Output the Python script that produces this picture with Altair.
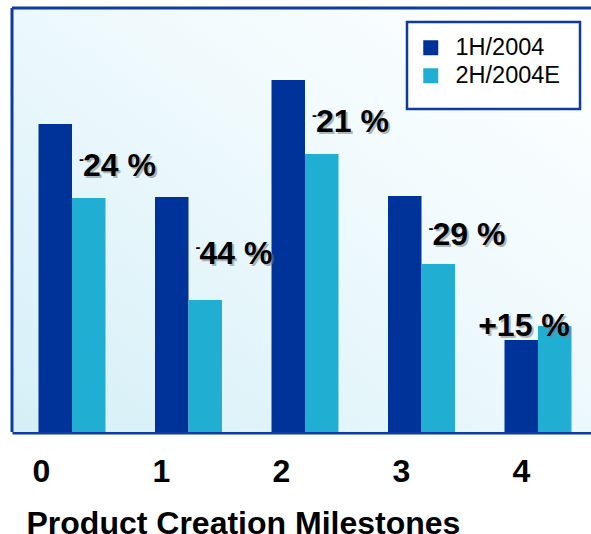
import altair as alt
import pandas as pd

# Chart data
milestones = ["0", "1", "2", "3", "4"]
first_half = [308, 235, 352, 236, 92]
second_half = [234, 132, 278, 168, 106]
change_pct = [-24, -44, -21, -29, 15]
series_names = ["1H/2004", "2H/2004E"]
bar_colors = ["#003399", "#21aed3"]
tick_values = [0, 1, 2, 3, 4]

W, H = 579, 424
FONT = "Liberation Sans"
BORDER = "#0d3b9f"

bars_df = pd.DataFrame({
    "milestone": milestones * 2,
    "series": [series_names[0]] * len(milestones) + [series_names[1]] * len(milestones),
    "value": first_half + second_half,
})

labels_df = pd.DataFrame({
    "milestone": milestones,
    "mid": [(a + b) / 2 for a, b in zip(first_half, second_half)],
    "pct": change_pct,
})
labels_df["digits"] = [f"{abs(p)} %" for p in change_pct]
labels_df["full"] = [f"+{p} %" if p > 0 else f"{p} %" for p in change_pct]

ticks_df = pd.DataFrame({"tick": tick_values})

band = alt.Scale(paddingInner=0.425, paddingOuter=0.1975, align=0.576)
x_band = alt.X("milestone:N", scale=band, axis=None, sort=milestones)
y_scale = alt.Scale(domain=[0, H], nice=False, zero=True)

one_row = pd.DataFrame({"a": [0]})

# plot-area background: light cyan at the lower left fading to white
background = alt.Chart(one_row).mark_rect(
    color={
        "gradient": "linear",
        "x1": 0, "y1": 1, "x2": 1, "y2": 0,
        "stops": [
            {"offset": 0, "color": "#d5eff7"},
            {"offset": 0.6, "color": "#f0fafd"},
            {"offset": 1, "color": "#ffffff"},
        ],
    }
).encode(x=alt.value(0), x2=alt.value(W), y=alt.value(0), y2=alt.value(H))

top_border = alt.Chart(one_row).mark_rule(color=BORDER, strokeWidth=3).encode(
    x=alt.value(0), x2=alt.value(W), y=alt.value(0)
)
left_border = alt.Chart(one_row).mark_rule(color=BORDER, strokeWidth=3).encode(
    x=alt.value(0), y=alt.value(0), y2=alt.value(H)
)

# frame behind the legend entries
legend_frame = alt.Chart(one_row).mark_rect(
    fill="white", stroke=BORDER, strokeWidth=2.5
).encode(x=alt.value(395), x2=alt.value(568), y=alt.value(14), y2=alt.value(101))

bars = alt.Chart(bars_df).mark_bar(size=33.5).encode(
    x=x_band,
    xOffset=alt.XOffset("series:N", sort=series_names, scale=alt.Scale(paddingInner=0, paddingOuter=0)),
    y=alt.Y("value:Q", scale=y_scale, axis=None),
    color=alt.Color(
        "series:N",
        scale=alt.Scale(domain=series_names, range=bar_colors),
        legend=alt.Legend(
            title=None, orient="none", legendX=407, legendY=28, direction="vertical",
            symbolType="square", symbolSize=225, symbolStrokeWidth=0, symbolOpacity=1,
            labelFontSize=23.5, labelFont=FONT, labelColor="black", labelOffset=13,
            rowPadding=3, padding=0,
        ),
    ),
)

base_lbl = alt.Chart(labels_df).encode(
    x=x_band, y=alt.Y("mid:Q", scale=y_scale, axis=None)
)
neg = base_lbl.transform_filter("datum.pct < 0")
pos = base_lbl.transform_filter("datum.pct > 0")

txt = dict(fontSize=32, fontWeight="bold", font=FONT, baseline="middle")

neg_shadow = neg.mark_text(align="left", dx=13, dy=7, color="#7f7f7f", opacity=0.55, **txt).encode(text="digits:N")
neg_text = neg.mark_text(align="left", dx=11, dy=5, color="black", **txt).encode(text="digits:N")
neg_dash = neg.mark_text(
    text="-", align="left", dx=7, dy=-2, fontSize=15, fontWeight="bold", font=FONT,
    baseline="middle", color="black",
)
pos_shadow = pos.mark_text(align="center", dx=-12, dy=-5, color="#7f7f7f", opacity=0.55, **txt).encode(text="full:N")
pos_text = pos.mark_text(align="center", dx=-14, dy=-7, color="black", **txt).encode(text="full:N")

plot_layers = alt.layer(
    background, legend_frame, bars, neg_shadow, neg_text, neg_dash, pos_shadow, pos_text,
    top_border, left_border,
)

ticks = alt.Chart(ticks_df).mark_point(opacity=0).encode(
    x=alt.X(
        "tick:Q",
        scale=alt.Scale(domain=[-0.2417, 4.5833], nice=False, zero=False),
        axis=alt.Axis(
            values=tick_values, format="d", labelFontSize=32, labelFontWeight="bold",
            labelFont=FONT, labelColor="black", ticks=False, tickSize=0, labelPadding=24,
            labelFlush=False, grid=False, domain=True, domainColor=BORDER, domainWidth=4,
            title="Product Creation Milestones", titleFont=FONT, titleFontSize=32,
            titleFontWeight="bold", titleColor="black", titleX=14, titleY=101,
            titleAlign="left", titleBaseline="alphabetic", titleAnchor="start",
        ),
    ),
    y=alt.value(H),
)

chart = alt.layer(plot_layers, ticks).resolve_scale(x="independent").properties(
    width=W, height=H,
    autosize=alt.AutoSizeParams(type="none"),
    padding={"left": 12, "top": 8, "right": 0, "bottom": 102},
    background="white",
).configure_view(strokeWidth=0)

chart.save("out.html", embed_options={"renderer": "svg", "actions": False})
